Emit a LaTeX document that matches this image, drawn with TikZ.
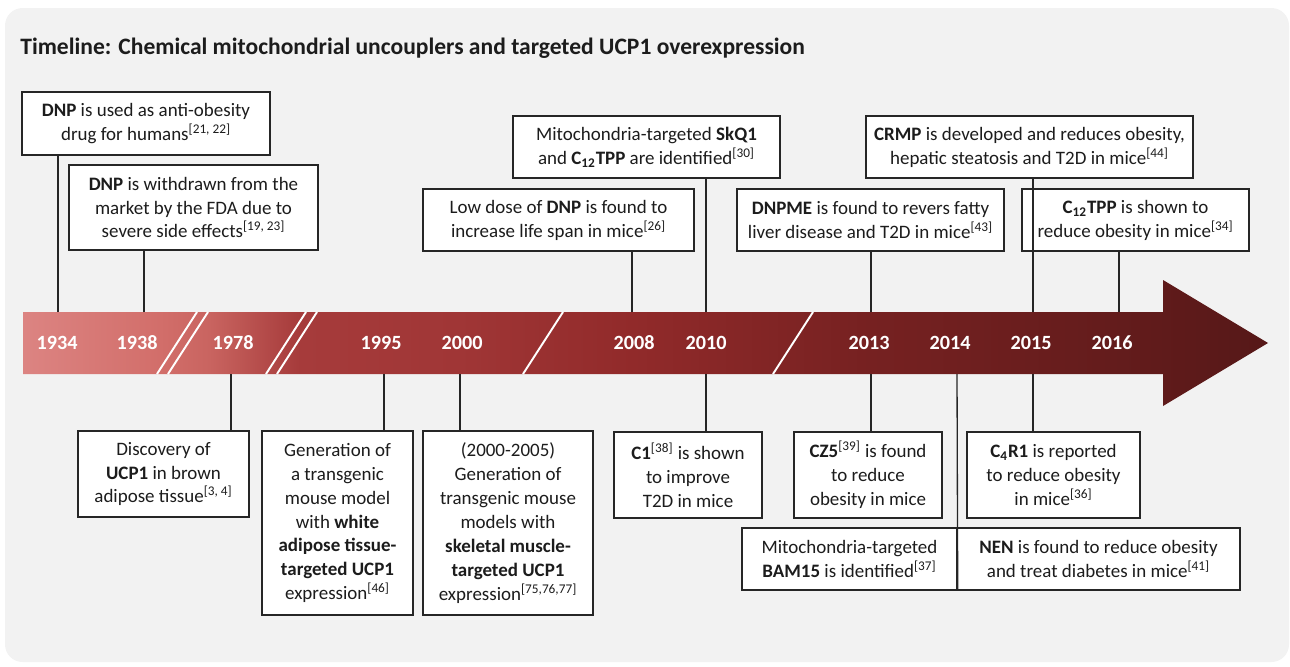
\documentclass[tikz,border=0pt]{standalone}
\usepackage{fontspec}
\setmainfont{Carlito}

\definecolor{bggray}{HTML}{F2F2F2}
\definecolor{boxline}{HTML}{262626}
\definecolor{txt}{HTML}{1C1C1C}
\definecolor{shA}{HTML}{DC8482}
\definecolor{shB}{HTML}{D26E6A}
\definecolor{shC}{HTML}{C96460}
\definecolor{shD}{HTML}{A63B3B}
\definecolor{shE}{HTML}{A03636}
\definecolor{shF}{HTML}{912A2A}
\definecolor{shG}{HTML}{762121}
\definecolor{shH}{HTML}{641C1C}
\definecolor{shI}{HTML}{561818}
\pgfdeclarehorizontalshading{tlshade}{100bp}{color(0bp)=(shA); color(25bp)=(shA);
  color(30.5bp)=(shB); color(32.5bp)=(shC); color(36.1bp)=(shD); color(42.5bp)=(shE);
  color(49.5bp)=(shF); color(59bp)=(shG); color(68.7bp)=(shH); color(75bp)=(shI); color(100bp)=(shI)}

\begin{document}
\begin{tikzpicture}[x=0.02cm, y=-0.02cm,
  font=\fontsize{10.8}{13.6}\selectfont,
  evt/.style={draw=boxline, line width=0.8pt, fill=white, text=txt, align=center, inner sep=1pt},
  boxsize/.style 2 args={minimum width=#1*0.02cm, minimum height=#2*0.02cm},
  yr/.style={text=white, font=\bfseries\fontsize{11.5}{13}\selectfont},
  conn/.style={draw=boxline, line width=0.75pt},
  brk/.style={draw=white, line width=1.1pt}]
\useasboundingbox (0,0) rectangle (1290,666);
\fill[bggray, rounded corners=10] (5,8) rectangle (1289,662);
\node[anchor=west, inner sep=0pt, text=txt, font=\bfseries\fontsize{13.4}{16}\selectfont] (title) at (20,48)
  {Timeline: Chemical mitochondrial uncouplers and targeted UCP1 overexpression};

% timeline arrow with breaks
\path[shading=tlshade] (23,312) -- (1163,312) -- (1163,280) -- (1268,343)
  -- (1163,406) -- (1163,374) -- (23,374) -- cycle;
\foreach \bx in {157,168,266,277,523,773}
  \draw[brk] (\bx,374) -- ++(40,-62);
\foreach \yy/\yx in {1934/57,1938/137,1978/233,1995/381,2000/462,2008/634,2010/706,2013/869,2014/950,2015/1031,2016/1112}
  \node[yr] (y\yy) at (\yx,343) {\yy};

% events above
\node[evt, boxsize={248}{63}] (b1934) at (146,123.5) {\textbf{DNP} is used as anti-obesity\\drug for humans\textsuperscript{[21, 22]}};
\node[evt, boxsize={249}{85}] (b1938) at (193.5,207.5) {\textbf{DNP} is withdrawn from the\\market by the FDA due to\\severe side effects\textsuperscript{[19, 23]}};
\node[evt, boxsize={271}{62}] (b2008) at (558.5,220) {Low dose of \textbf{DNP} is found to\\increase life span in mice\textsuperscript{[26]}};
\node[evt, boxsize={267}{62}] (b2010) at (646.5,147) {Mitochondria-targeted \textbf{SkQ1}\\and \textbf{C\textsubscript{12}TPP} are identified\textsuperscript{[30]}};
\node[evt, boxsize={267}{62}] (b2013) at (870.5,220) {\textbf{DNPME} is found to revers fatty\\liver disease and T2D in mice\textsuperscript{[43]}};
\node[evt, boxsize={327}{62}] (b2015) at (1029.5,147) {\textbf{CRMP} is developed and reduces obesity,\\hepatic steatosis and T2D in mice\textsuperscript{[44]}};
\node[evt, boxsize={227}{62}] (b2016) at (1135.5,220) {\textbf{C\textsubscript{12}TPP} is shown to\\reduce obesity in mice\textsuperscript{[34]}};

% events below
\node[evt, boxsize={171}{86}] (d1978) at (163.5,474) {Discovery of\\\textbf{UCP1} in brown\\adipose tissue\textsuperscript{[3, 4]}};
\node[evt, boxsize={151}{184}] (d1995) at (337.5,523) {Generation of\\a transgenic\\mouse model\\with \textbf{white}\\\textbf{adipose tissue-}\\\textbf{targeted UCP1}\\expression\textsuperscript{[46]}};
\node[evt, boxsize={170}{184}] (d2000) at (508,523) {(2000-2005)\\Generation of\\transgenic mouse\\models with\\\textbf{skeletal muscle-}\\\textbf{targeted UCP1}\\expression\textsuperscript{[75,76,77]}};
\node[evt, boxsize={148}{86}] (d2010) at (688,475) {\textbf{C1}\textsuperscript{[38]} is shown\\to improve\\T2D in mice};
\node[evt, boxsize={148}{86}] (d2013) at (868,475) {\textbf{CZ5}\textsuperscript{[39]} is found\\to reduce\\obesity in mice};
\node[evt, boxsize={173}{86}] (d2015) at (1053.5,475) {\textbf{C\textsubscript{4}R1} is reported\\to reduce obesity\\in mice\textsuperscript{[36]}};
\node[evt, boxsize={215}{62}] (bam) at (849.5,559) {Mitochondria-targeted\\\textbf{BAM15} is identified\textsuperscript{[37]}};
\node[evt, boxsize={283}{62}] (nen) at (1098.5,559) {\textbf{NEN} is found to reduce obesity\\and treat diabetes in mice\textsuperscript{[41]}};

% connectors
\foreach \n/\kx in {1934/58,1938/144,2008/632,2010/706,2013/871,2015/1033,2016/1119}
  \draw[conn] (\kx,312) coordinate (u\n) -- (b\n.south -| u\n);
\foreach \n/\kx in {1978/231,1995/384,2000/460,2010/706,2013/871,2015/1033}
  \draw[conn] (\kx,374) coordinate (l\n) -- (d\n.north -| l\n);
\coordinate (l2014) at (957,374);
\draw[conn] (l2014) -- (bam.south east);
\end{tikzpicture}
\end{document}
